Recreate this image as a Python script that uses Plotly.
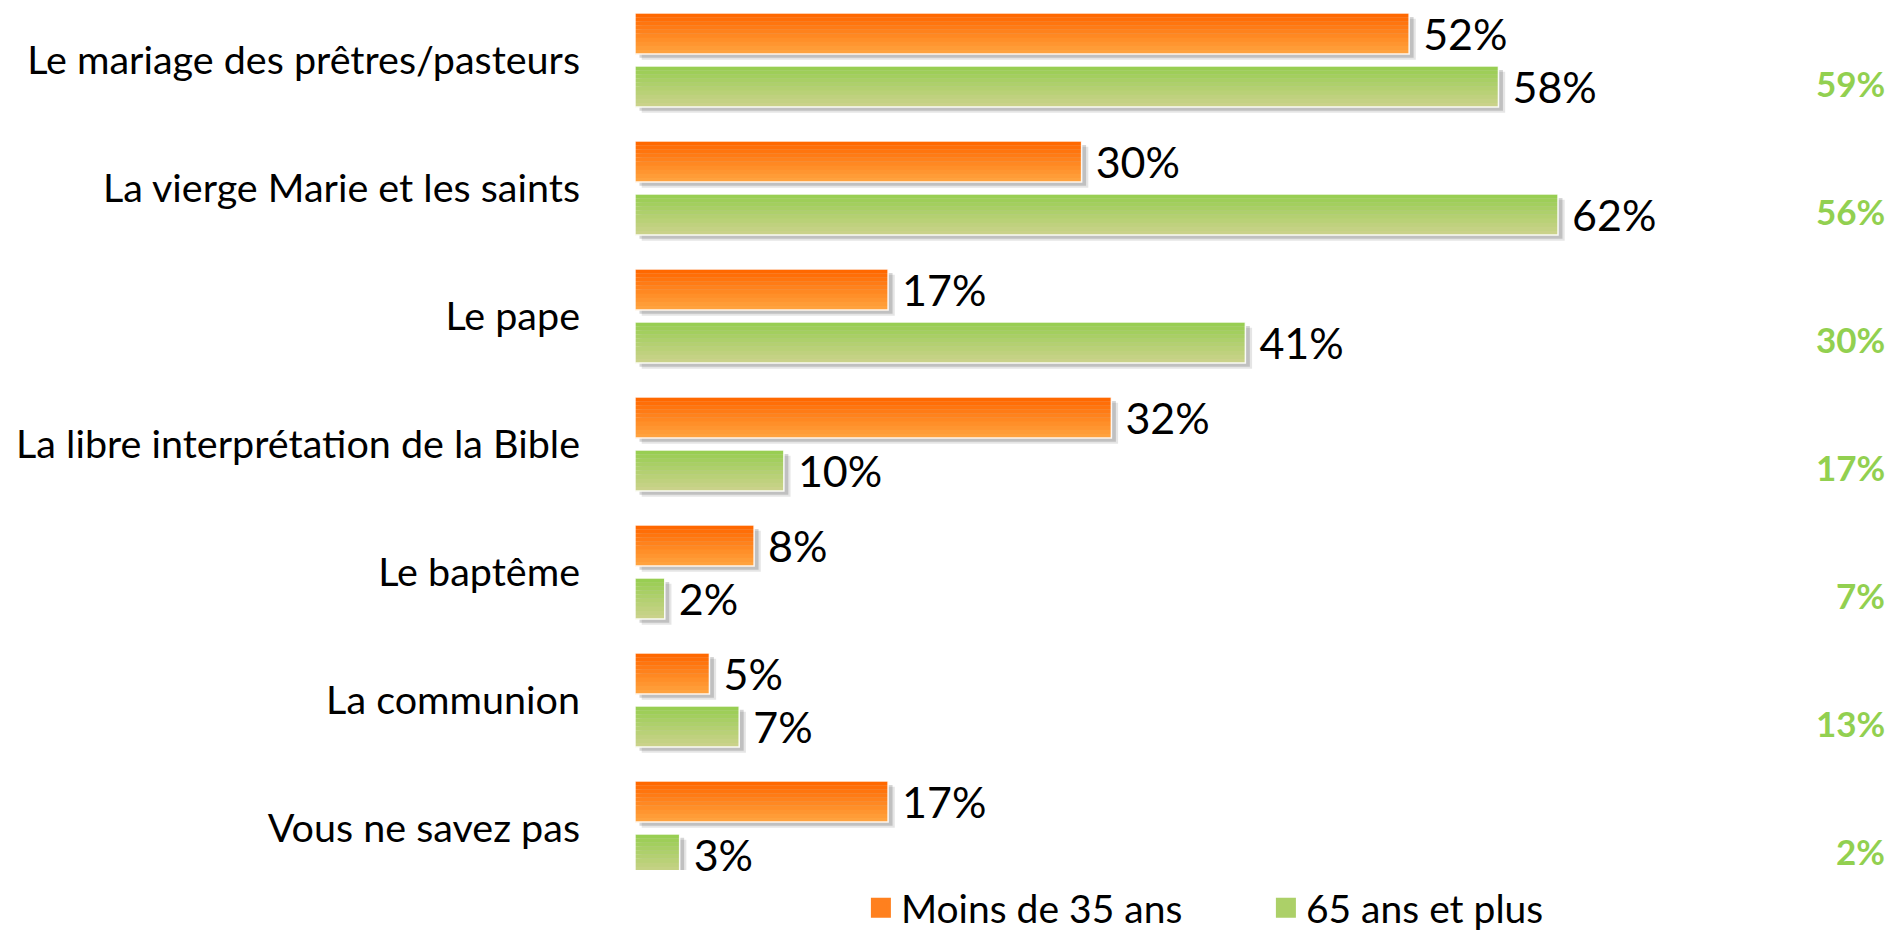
import plotly.graph_objects as go

categories = [
    "Le mariage des prêtres/pasteurs",
    "La vierge Marie et les saints",
    "Le pape",
    "La libre interprétation de la Bible",
    "Le baptême",
    "La communion",
    "Vous ne savez pas",
]
moins_35 = [52, 30, 17, 32, 8, 5, 17]
plus_65 = [58, 62, 41, 10, 2, 7, 3]
ensemble = [59, 56, 30, 17, 7, 13, 2]
series_names = ["Moins de 35 ans", "65 ans et plus"]

FONT = "Lato"
pos = list(range(len(categories)))

W = 0.32
OFF = [-0.367, 0.047]
TOP_COL = [(255, 104, 0), (152, 206, 82)]
BOT_COL = [(255, 162, 62), (202, 210, 138)]
LEG_COL = ["rgb(255,128,30)", "rgb(172,208,104)"]
NSTRIP = 10

fig = go.Figure()

series = [moins_35, plus_65]
for s, vals in enumerate(series):
    # soft shadow
    for dy, dx, a in [(0.045, 0.45, 0.10), (0.030, 0.30, 0.16)]:
        fig.add_trace(go.Bar(
            y=pos, x=vals, base=dx, orientation="h", width=W, offset=OFF[s] + dy,
            marker=dict(color=f"rgba(0,0,0,{a})", line=dict(width=0)),
            showlegend=False, hoverinfo="skip"))
    # gradient strips
    for k in range(NSTRIP):
        t = k / (NSTRIP - 1)
        c = tuple(round(TOP_COL[s][i] + (BOT_COL[s][i] - TOP_COL[s][i]) * t) for i in range(3))
        fig.add_trace(go.Bar(
            y=pos, x=vals, orientation="h", width=W / NSTRIP + 0.002,
            offset=OFF[s] + k * W / NSTRIP,
            marker=dict(color=f"rgb{c}", line=dict(width=0)),
            showlegend=False, hoverinfo="skip"))
    # outline + labels
    fig.add_trace(go.Bar(
        y=pos, x=vals, orientation="h", width=W, offset=OFF[s],
        marker=dict(color="rgba(0,0,0,0)", line=dict(color="rgba(255,255,255,0.9)", width=1.5)),
        text=[f" {v}%" for v in vals], textposition="outside", constraintext="none",
        textfont=dict(family=FONT, size=43, color="black"),
        cliponaxis=False, showlegend=False, hoverinfo="skip"))
    # legend entry
    fig.add_trace(go.Scatter(
        x=[None], y=[None], mode="markers", name=series_names[s],
        marker=dict(symbol="square", size=16, color=LEG_COL[s],
                    line=dict(color=LEG_COL[s], width=4)),
        showlegend=True, hoverinfo="skip"))

for i, v in enumerate(ensemble):
    fig.add_annotation(
        x=84.1, y=pos[i] + OFF[1] + W / 2 - 0.03, xref="x", yref="y",
        text=f"<b>{v}%</b>", showarrow=False, xanchor="right", yanchor="middle",
        font=dict(family=FONT, size=35, color="#92D050"))

fig.update_layout(
    width=1892, height=933,
    barmode="overlay",
    plot_bgcolor="white", paper_bgcolor="white",
    margin=dict(l=635, r=2, t=0, b=63, autoexpand=False),
    showlegend=True,
    legend=dict(orientation="h", x=0.18, xanchor="left", y=-0.0437, yanchor="middle",
                font=dict(family=FONT, size=39, color="black"),
                entrywidth=360, entrywidthmode="pixels", itemsizing="trace",
                traceorder="normal", bgcolor="rgba(0,0,0,0)"),
    font=dict(family=FONT, color="black"),
)
fig.update_xaxes(range=[0, 84.3], visible=False, showgrid=False, zeroline=False)
fig.update_yaxes(range=[6.328, -0.469], tickvals=pos, ticktext=categories,
                 showgrid=False, zeroline=False, showline=False, ticks="",
                 automargin=False, ticklabelstandoff=54,
                 tickfont=dict(family=FONT, size=39.5, color="black"))

fig.write_html("out.html", config={"displayModeBar": False},
               post_script="document.body.style.margin='0';document.body.style.overflow='hidden';")
